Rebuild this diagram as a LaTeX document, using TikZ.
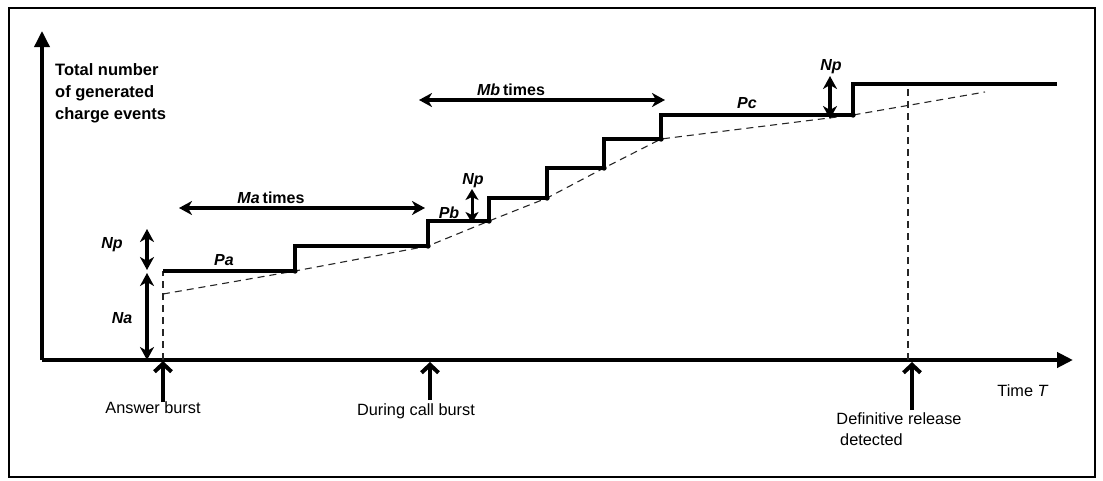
\documentclass[tikz,border=0pt]{standalone}
\usepackage{fontspec}
\setmainfont{Liberation Sans}
\usetikzlibrary{arrows.meta}
\tikzset{
  axisline/.style={line width=3.5pt,-{Triangle[length=16pt,width=15pt]}},
  stairs/.style={line width=3.3pt,line join=miter},
  guide/.style={line width=1.1pt,dash pattern=on 7pt off 5pt,black!85},
  dimarrow/.style={line width=3.2pt,{Stealth[length=13pt,width=14pt,inset=4pt]}-{Stealth[length=13pt,width=14pt,inset=4pt]}},
  burst/.style={line width=4pt,-{Straight Barb[length=8pt,width=17pt]}},
  lbl/.style={font=\fontsize{16}{19}\selectfont\bfseries\itshape,inner sep=0pt},
  ylbl/.style={font=\fontsize{16.5}{19}\selectfont\bfseries,inner sep=0pt,anchor=base west},
  txt/.style={font=\fontsize{16.3}{19}\selectfont,inner sep=0pt},
}
\begin{document}
\begin{tikzpicture}[x=1pt,y=-1pt]
\useasboundingbox (0,0) rectangle (1103,480);
\draw[line width=2.2pt] (9,8) rectangle (1095,477);

% axes
\coordinate (O) at (42,360);
\coordinate (ytop) at (42,31);
\coordinate (xend) at (1073,360);
\draw[axisline] (O) -- (ytop);
\draw[line width=4.5pt,-{Triangle[length=16pt,width=15pt]}] (O) -- (xend);

% staircase corners
\coordinate (s0) at (163,271);
\coordinate (c1) at (295,271); \coordinate (t1) at (295,246);
\coordinate (c2) at (428,246); \coordinate (t2) at (428,221);
\coordinate (c3) at (489,221); \coordinate (t3) at (489,198);
\coordinate (c4) at (547,198); \coordinate (t4) at (547,168);
\coordinate (c5) at (604,168); \coordinate (t5) at (604,139);
\coordinate (c6) at (661,139); \coordinate (t6) at (661,115);
\coordinate (c7) at (853,115); \coordinate (t7) at (853,84);
\coordinate (e)  at (1057,84);
\coordinate (d0) at (163,294);
\coordinate (d8) at (985,92);
\coordinate (a0) at (163,360);
\coordinate (r0) at (908,360);
\coordinate (r1) at (908,84);

% dashed guides
\draw[guide] (a0) -- (s0);
\draw[guide] (d0) -- (c1) -- (c2) -- (c3) -- (c4) -- (c5) -- (c6) -- (c7) -- (d8);
\draw[guide] (r0) -- (r1);

% staircase
\draw[stairs] (s0) -- (c1) -- (t1) -- (c2) -- (t2) -- (c3) -- (t3) -- (c4) -- (t4) -- (c5) -- (t5) -- (c6) -- (t6) -- (c7) -- (t7) -- (e);
\foreach \p in {c1,c2,c3,c4,c5,c6,c7} \fill (\p) circle (2.7pt);

% dimension arrows
\coordinate (np1a) at (147,229); \coordinate (np1b) at (147,270);
\coordinate (na1a) at (147,273); \coordinate (na1b) at (147,360);
\coordinate (np2a) at (472,189); \coordinate (np2b) at (472,223);
\coordinate (np3a) at (830,76);  \coordinate (np3b) at (830,119);
\coordinate (maa) at (179,208);  \coordinate (mab) at (425,208);
\coordinate (mba) at (419,100);  \coordinate (mbb) at (665,100);
\draw[dimarrow] (np1a) -- (np1b);
\draw[dimarrow] (na1a) -- (na1b);
\draw[line width=3pt,{Stealth[length=11pt,width=13pt,inset=3pt]}-{Stealth[length=11pt,width=13pt,inset=3pt]}] (np2a) -- (np2b);
\draw[dimarrow] (np3a) -- (np3b);
\draw[dimarrow] (maa) -- (mab);
\draw[dimarrow] (mba) -- (mbb);

% burst arrows
\coordinate (b1a) at (163,402); \coordinate (b1b) at (163,361);
\coordinate (b2a) at (430,400); \coordinate (b2b) at (430,362);
\coordinate (b3a) at (912,410); \coordinate (b3b) at (912,362);
\draw[burst] (b1a) -- (b1b);
\draw[burst] (b2a) -- (b2b);
\draw[burst] (b3a) -- (b3b);

% labels
\node[ylbl] (yl1) at (55,75) {Total number};
\node[ylbl] (yl2) at (55,97) {of generated};
\node[ylbl] (yl3) at (55,119) {charge events};

\node[lbl] (lnp1) at (112,245) {Np};
\node[lbl] (lna) at (122,318) {Na};
\node[lbl] (lpa) at (224,260) {Pa};
\node[lbl] (lpb) at (449,213) {Pb};
\node[lbl] (lpc) at (747,103) {Pc};
\node[lbl] (lnp2) at (473,181) {Np};
\node[lbl] (lnp3) at (831,67) {Np};
\node[lbl,anchor=base] (lma) at (271,203) {Ma\upshape{}\hspace{3pt}times};
\node[lbl,anchor=base] (lmb) at (511,95) {Mb\upshape{}\hspace{3pt}times};

\node[txt,anchor=base] (lans) at (153,413) {Answer burst};
\node[txt,anchor=base] (ldur) at (416,415) {During call burst};
\node[txt,anchor=base] (ldef1) at (899,424) {Definitive release};
\node[txt,anchor=base west] (ldef2) at (840,445) {detected};
\node[txt,anchor=base] (ltime) at (1023,396) {Time \textit{T}};
\end{tikzpicture}
\end{document}
